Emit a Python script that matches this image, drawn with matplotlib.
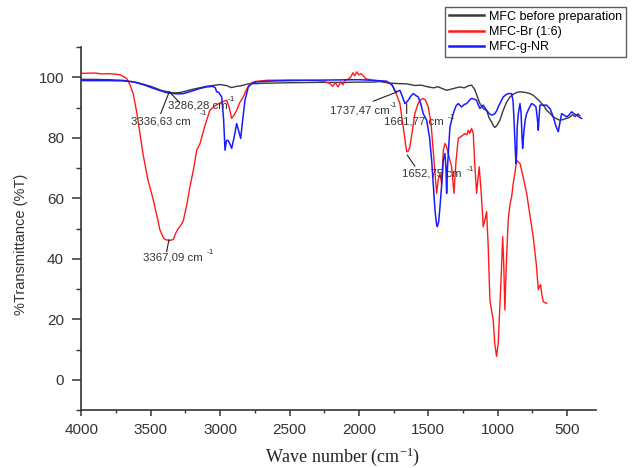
import numpy as np
import matplotlib.pyplot as plt
from matplotlib.ticker import MultipleLocator

# MFC before preparation
wn_mfc = [4000, 3900, 3800, 3700, 3600, 3500, 3420, 3336, 3286, 3200, 3100, 3000,
          2950, 2920, 2880, 2850, 2800, 2700, 2500, 2300, 2100, 2000, 1900, 1850,
          1800, 1750, 1704, 1650, 1600, 1550, 1500, 1460, 1430, 1400, 1367, 1340,
          1300, 1271, 1240, 1210, 1187, 1165, 1151, 1127, 1100, 1079, 1060, 1040,
          1030, 1019, 1005, 983, 959, 934, 910, 887, 860, 838, 800, 766, 740, 718,
          700, 682, 660, 646, 620, 598, 575, 550, 530, 502, 480, 460, 440, 420, 406]
t_mfc = [99.3, 99.3, 99.2, 99.0, 98.3, 97.0, 95.6, 94.8, 95.0, 96.0, 97.0, 97.6,
         97.2, 96.6, 97.0, 97.2, 97.8, 98.0, 98.2, 98.3, 98.3, 98.4, 98.4, 98.6,
         98.2, 98.0, 97.9, 97.8, 97.3, 97.4, 96.8, 96.5, 96.9, 96.3, 95.7, 96.0,
         96.5, 96.8, 96.5, 97.2, 97.4, 96.0, 94.3, 91.3, 89.5, 89.1, 86.5, 85.0,
         84.0, 83.4, 84.0, 85.8, 89.1, 91.8, 93.5, 94.4, 95.0, 95.2, 95.0, 94.6, 94.0, 93.0,
         92.3, 91.3, 90.2, 89.1, 88.0, 86.9, 86.3, 85.8, 86.0, 86.4, 86.8, 87.6, 87.0, 87.9, 87.3]

# MFC-Br (1:6)
wn_br = [4000, 3900, 3850, 3800, 3750, 3720, 3700, 3674, 3650, 3627, 3600, 3580,
         3554, 3520, 3482, 3450, 3434, 3410, 3398, 3367, 3338, 3320, 3302, 3285,
         3266, 3240, 3218, 3190, 3169, 3146, 3110, 3074, 3040, 3010, 2989, 2953,
         2935, 2917, 2900, 2881, 2860, 2833, 2810, 2785, 2750, 2665, 2500, 2400,
         2300, 2250, 2210, 2190, 2170, 2150, 2130, 2115, 2100, 2080, 2060, 2042,
         2030, 2015, 2000, 1985, 1970, 1950, 1900, 1850, 1800, 1770, 1752, 1730,
         1704, 1680, 1665, 1655, 1645, 1632, 1615, 1596, 1575, 1560, 1536, 1520,
         1500, 1480, 1464, 1450, 1439, 1428, 1415, 1403, 1391, 1379, 1367, 1355,
         1340, 1331, 1314, 1300, 1283, 1260, 1235, 1220, 1211, 1200, 1187, 1175,
         1165, 1151, 1140, 1132, 1115, 1103, 1090, 1079, 1068, 1055, 1040, 1031,
         1020, 1007, 995, 983, 972, 963, 955, 947, 935, 923, 910, 898, 887, 875,
         862, 850, 838, 815, 790, 765, 743, 720, 706, 697, 689, 680, 670, 660, 646]
t_br = [101.3, 101.4, 101.1, 101.2, 101.0, 100.8, 100.3, 99.6, 97.5, 94.6, 88.0, 82.0,
        74.0, 66.0, 59.4, 53.0, 49.5, 47.0, 46.4, 46.0, 46.4, 48.5, 50.0, 51.0,
        52.5, 58.0, 63.8, 70.0, 75.9, 78.0, 84.0, 89.1, 90.5, 91.3, 91.8, 92.4,
        90.0, 86.4, 87.5, 89.1, 91.5, 93.5, 96.0, 97.9, 98.6, 99.0, 99.1, 99.0,
        98.9, 98.6, 98.0, 97.0, 98.2, 96.8, 98.5, 97.5, 99.0, 99.3, 100.0, 101.5,
        100.5, 101.8, 100.8, 101.2, 100.6, 99.5, 99.0, 98.8, 98.5, 97.8, 96.8, 94.5,
        91.3, 83.6, 78.5, 75.4, 75.5, 77.0, 82.0, 88.0, 91.0, 92.4, 93.0, 92.5,
        90.2, 85.0, 76.0, 68.0, 61.6, 66.0, 68.2, 64.9, 75.9, 78.1, 77.0, 74.8,
        72.0, 70.4, 61.6, 72.0, 79.8, 80.5, 81.4, 81.0, 82.5, 81.5, 83.1, 81.4,
        72.0, 61.6, 67.0, 70.4, 60.0, 50.6, 53.0, 55.6, 45.0, 26.4, 22.0, 19.8,
        12.0, 7.7, 12.0, 24.2, 36.0, 47.3, 38.0, 23.1, 40.0, 52.8, 58.0, 60.5, 64.9, 68.2,
        72.6, 72.0, 71.5, 67.0, 61.6, 54.0, 47.3, 38.0, 29.7, 31.0, 31.4, 28.0, 25.8, 25.5, 25.3]

# MFC-g-NR
wn_nr = [4000, 3900, 3800, 3700, 3629, 3550, 3480, 3420, 3386, 3336, 3300, 3266,
         3200, 3146, 3100, 3052, 3035, 3025, 3010, 2989, 2975, 2965, 2955, 2944,
         2930, 2917, 2900, 2881, 2865, 2852, 2840, 2821, 2797, 2770, 2737, 2600,
         2400, 2200, 2000, 1900, 1800, 1760, 1740, 1727, 1704, 1685, 1668, 1655,
         1644, 1625, 1608, 1590, 1572, 1555, 1536, 1511, 1490, 1475, 1460, 1451,
         1440, 1435, 1425, 1415, 1400, 1391, 1379, 1372, 1367, 1361, 1355, 1343,
         1319, 1300, 1283, 1259, 1240, 1223, 1200, 1187, 1170, 1151, 1140, 1127,
         1115, 1103, 1090, 1079, 1060, 1043, 1030, 1019, 1005, 995, 975, 959, 940,
         923, 898, 888, 882, 872, 867, 862, 858, 850, 838, 830, 823, 819, 810, 800,
         790, 770, 754, 740, 723, 712, 706, 700, 694, 670, 646, 620, 598, 580, 562,
         550, 538, 520, 502, 485, 466, 450, 430, 410, 394]
t_nr = [98.9, 98.9, 98.9, 98.8, 98.5, 97.5, 96.3, 95.4, 94.9, 94.6, 94.5, 94.6,
        95.5, 96.3, 96.8, 97.0, 96.5, 95.2, 95.0, 93.5, 86.0, 75.9, 79.0, 79.2,
        78.0, 76.5, 80.0, 84.7, 82.0, 79.8, 85.0, 92.4, 96.8, 98.0, 98.5, 98.8,
        99.0, 99.1, 99.2, 99.0, 98.7, 97.5, 95.5, 95.2, 95.7, 93.5, 91.3, 91.8,
        92.4, 93.8, 94.6, 94.0, 93.5, 91.5, 88.0, 85.8, 80.0, 72.6, 62.0, 56.1,
        51.5, 50.6, 52.0, 57.2, 66.0, 72.6, 74.8, 70.0, 61.6, 70.0, 74.8, 83.6,
        88.0, 90.5, 91.3, 90.2, 91.0, 91.3, 92.5, 93.0, 92.8, 92.4, 91.0, 89.7,
        90.3, 90.8, 89.8, 89.1, 88.0, 87.5, 87.7, 88.0, 89.0, 90.2, 92.0, 93.5, 94.2,
        94.6, 94.6, 92.0, 86.9, 76.0, 71.5, 75.0, 83.6, 88.0, 91.3, 88.0, 80.0, 76.5, 82.0, 86.0,
        88.0, 90.0, 91.3, 91.0, 90.2, 86.0, 82.5, 87.0, 90.8, 90.8, 90.8, 89.5, 86.9, 84.0, 82.0,
        85.0, 88.0, 87.5, 86.9, 87.5, 88.6, 88.0, 87.5, 86.8, 86.4]

labels = ['MFC before preparation', 'MFC-Br (1:6)', 'MFC-g-NR']

# peak labels: text, curve point, leader end, text pos, superscript pos
peaks = [
    ('3336,63 cm', (3367, 95.2), (3429, 88.0), (3643, 85.5), (3150, 87.9)),
    ('3286,28 cm', (3367, 95.2), (3295, 91.8), (3374, 90.8), (2945, 92.6)),
    ('3367,09 cm', (3369, 46.4), (3386, 42.3), (3559, 40.3), (3100, 42.0)),
    ('1737,47 cm', (1727, 95.1), (1896, 92.1), (2208, 89.1), (1780, 90.6)),
    ('1661,77 cm', (1655, 91.3), (1655, 88.0), (1819, 85.5), (1360, 86.7)),
    ('1652,75 cm', (1651, 74.3), (1596, 70.6), (1691, 68.3), (1225, 69.5)),
]

plt.rcParams['font.family'] = 'Liberation Sans'
plt.rcParams['mathtext.fontset'] = 'custom'
plt.rcParams['mathtext.rm'] = 'Liberation Serif'
plt.rcParams['mathtext.it'] = 'Liberation Serif:italic'

fig = plt.figure(figsize=(6.39, 4.68), dpi=100)
ax = fig.add_axes([0.1275, 0.1239, 0.8052, 0.7756])

ax.plot(wn_mfc, t_mfc, color='#3a3a3a', lw=1.0, label=labels[0])
ax.plot(wn_br, t_br, color='#ff1a1a', lw=1.0, label=labels[1])
ax.plot(wn_nr, t_nr, color='#1a1aff', lw=1.1, label=labels[2])

for txt, pk, end, tpos, spos in peaks:
    ax.annotate('', xy=pk, xytext=end,
                arrowprops=dict(arrowstyle='-', color='#222222', lw=0.8,
                                shrinkA=0, shrinkB=0))
    ax.text(tpos[0], tpos[1], txt, fontsize=8.2, color='#333333', va='center', ha='left')
    ax.text(spos[0], spos[1], '-1', fontsize=6, color='#333333', va='center', ha='left')

ax.set_xlim(4000, 290)
ax.set_ylim(-10, 110)
ax.xaxis.set_major_locator(MultipleLocator(500))
ax.xaxis.set_minor_locator(MultipleLocator(250))
ax.yaxis.set_major_locator(MultipleLocator(20))
ax.yaxis.set_minor_locator(MultipleLocator(10))

for s in ['top', 'right']:
    ax.spines[s].set_visible(False)
for s in ['left', 'bottom']:
    ax.spines[s].set_color('#333333')
    ax.spines[s].set_linewidth(1.2)

ax.tick_params(axis='y', which='major', length=6.5, width=1.1, pad=6, labelsize=11, colors='#333333')
ax.tick_params(axis='y', which='minor', length=3.6, width=1.0, colors='#333333')
ax.tick_params(axis='x', which='major', length=4, width=1.1, pad=5, labelsize=11, colors='#333333')
ax.tick_params(axis='x', which='minor', length=2.5, width=1.0, colors='#333333')

ax.set_ylabel('%Transmittance (%T)', fontsize=10.5, color='#333333')
ax.yaxis.set_label_coords(-0.103, 0.455)
ax.set_xlabel('Wave number (cm$^{\\mathrm{-1}}$)', fontsize=13, family='Liberation Serif',
              color='#222222', va='center')
ax.xaxis.set_label_coords(0.508, -0.13)

leg = fig.legend(loc='upper left', bbox_to_anchor=(445 / 639, 1 - 7 / 468),
                 bbox_transform=fig.transFigure, fontsize=9, frameon=True,
                 fancybox=False, borderaxespad=0, borderpad=0.3,
                 handlelength=2.8, handletextpad=0.4, labelspacing=0.25)
leg.get_frame().set_edgecolor('#333333')
leg.get_frame().set_linewidth(1.0)
for ln in leg.get_lines():
    ln.set_linewidth(1.8)

fig.savefig('out.png', dpi=100)
